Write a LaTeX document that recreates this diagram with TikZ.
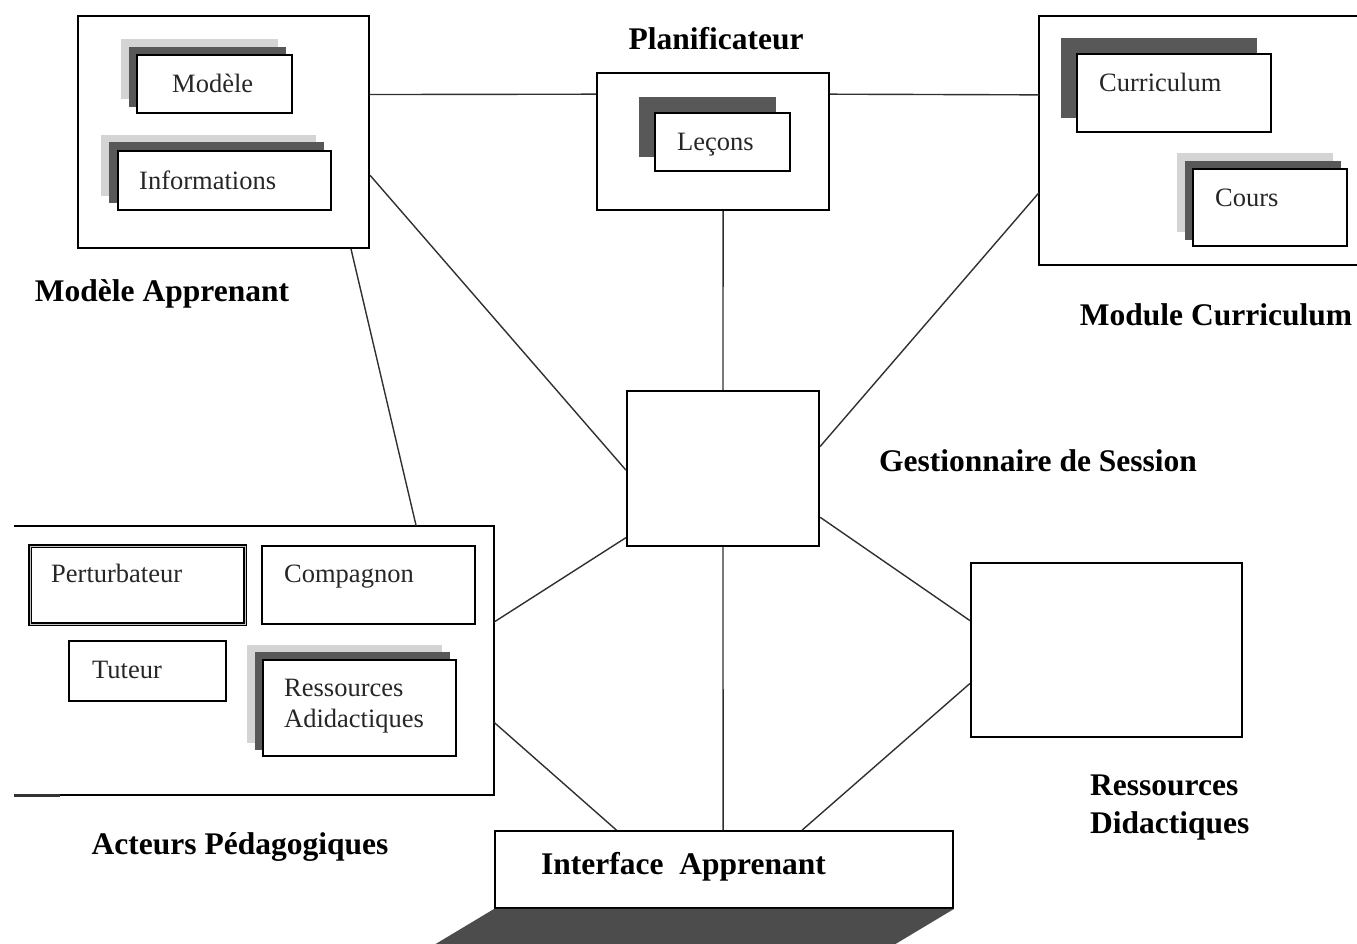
\documentclass[tikz,border=0pt]{standalone}
\usepackage{fontspec}
\setmainfont{Liberation Serif}
\usetikzlibrary{fit,calc,backgrounds}
\definecolor{shdark}{HTML}{585858}
\definecolor{shlight}{HTML}{D4D4D4}
\definecolor{platform}{HTML}{4C4C4C}
\definecolor{wire}{HTML}{303030}
\begin{document}
\begin{tikzpicture}[x=1pt,y=-1pt,
  mainbox/.style={inner sep=0pt, draw=black, line width=2.2pt},
  openbox/.style={inner sep=0pt},
  mainline/.style={draw=black, line width=2.2pt},
  innerbox/.style={inner sep=0pt, draw=black, fill=white, line width=1.4pt},
  heavybox/.style={inner sep=0pt, draw=black, fill=white, line width=1.9pt},
  doublebox/.style={inner sep=0pt, draw=black, fill=white, line width=1.2pt,
    double=gray!45, double distance=1pt},
  link/.style={draw=wire, line width=1.4pt},
  title/.style={inner sep=0pt, font=\fontsize{31.5}{38}\selectfont\bfseries},
  body/.style={inner sep=0pt, text=black!85, font=\fontsize{26.5}{31}\selectfont},
  darkshade/.style={fill=shdark},
  lightshade/.style={fill=shlight},
]
\useasboundingbox (0,0) rectangle (1357,943);

% ---------- main components ----------
\node[mainbox, fit={(78,16)(369,248)}] (ma) {};
\node[mainbox, fit={(597,73)(829,210)}] (plan) {};
\node[openbox, fit={(1039,16)(1366,265)}] (cur) {};
\draw[mainline] (cur.north east) -- (cur.north west) -- (cur.south west) -- (cur.south east);
\node[mainbox, fit={(627,391)(819,546)}] (gs) {};
\node[openbox, fit={(14,526)(494,795)}] (ap) {};
\draw[mainline] (ap.north west) -- (ap.north east) -- (ap.south east) -- (ap.south west);
\draw[line width=2.8pt, black!80] (ap.south west) -- ++(46,0);
\node[mainbox, fit={(971,563)(1242,737)}] (rd) {};

% learner interface with its platform
\node[heavybox, fit={(495,831)(953,908)}] (ia) {};
\fill[platform] (ia.south west) -- (ia.south east) -- ($(ia.south east)+(-70,42)$)
  -- ($(ia.south west)+(-70,42)$) -- cycle;

% ---------- inner boxes ----------
\node[innerbox, fit={(137,55)(292,113)}] (mo) {};
\node[innerbox, fit={(118,151)(331,210)}] (inf) {};
\node[innerbox, fit={(655,113)(790,171)}] (lec) {};
\node[innerbox, fit={(1077,54)(1271,132)}] (cu) {};
\node[innerbox, fit={(1193,169)(1347,246)}] (co) {};
\node[doublebox, fit={(30,546)(245,624)}] (pe) {};
\node[heavybox, fit={(262,546)(475,624)}] (cp) {};
\node[heavybox, fit={(69,641)(226,701)}] (tu) {};
\node[innerbox, fit={(263,660)(456,756)}] (ra) {};

% stacked shadows behind the inner boxes
\begin{scope}[on background layer]
  \fill[lightshade] ($(mo.north west)+(-15,-15)$) rectangle ($(mo.south east)+(-15,-15)$);
  \fill[darkshade]  ($(mo.north west)+(-7,-7)$)   rectangle ($(mo.south east)+(-7,-7)$);
  \fill[lightshade] ($(inf.north west)+(-16,-15)$) rectangle ($(inf.south east)+(-16,-15)$);
  \fill[darkshade]  ($(inf.north west)+(-8,-8)$)   rectangle ($(inf.south east)+(-8,-8)$);
  \fill[darkshade]  ($(lec.north west)+(-15,-15)$) rectangle ($(lec.south east)+(-15,-15)$);
  \fill[darkshade]  ($(cu.north west)+(-15,-15)$)  rectangle ($(cu.south east)+(-15,-15)$);
  \fill[lightshade] ($(co.north west)+(-15,-15)$)  rectangle ($(co.south east)+(-15,-15)$);
  \fill[darkshade]  ($(co.north west)+(-7,-7)$)    rectangle ($(co.south east)+(-7,-7)$);
  \fill[lightshade] ($(ra.north west)+(-15,-14)$)  rectangle ($(ra.south east)+(-15,-14)$);
  \fill[darkshade]  ($(ra.north west)+(-7,-7)$)    rectangle ($(ra.south east)+(-7,-7)$);
\end{scope}

% ---------- texts inside boxes ----------
\node[body, anchor=base west] (moT)  at (172,92)  {Modèle};
\node[body, anchor=base west] (infT) at (139,189) {Informations};
\node[body, anchor=base west] (lecT) at (677,150) {Leçons};
\node[body, anchor=base west] (cuT)  at (1099,91) {Curriculum};
\node[body, anchor=base west] (coT)  at (1215,206) {Cours};
\node[body, anchor=base west] (peT)  at (51,582)  {Perturbateur};
\node[body, anchor=base west] (cpT)  at (284,582) {Compagnon};
\node[body, anchor=base west] (tuT)  at (92,678)  {Tuteur};
% multi-line nodes: the base anchor sits on the last line
\node[body, anchor=base west, align=left] (raT) at (284,727) {Ressources\\Adidactiques};
\node[title, anchor=base west] (iaT) at (541,874) {Interface~~Apprenant};

% ---------- component titles ----------
\node[title, anchor=base] (planL) at (716,49)  {Planificateur};
\node[title, anchor=base] (maL)   at (162,301) {Modèle Apprenant};
\node[title, anchor=base] (curL)  at (1216,325) {Module Curriculum};
\node[title, anchor=base] (gsL)   at (1038,471) {Gestionnaire de Session};
\node[title, anchor=base] (apL)   at (240,854) {Acteurs Pédagogiques};
\node[title, anchor=base west, align=left] (rdL) at (1090,833) {Ressources\\Didactiques};

% ---------- connectors ----------
\draw[link] ($(ma.north east)!0.34!(ma.south east)$) -- ($(plan.north west)!0.16!(plan.south west)$);
\draw[link] ($(plan.north east)!0.16!(plan.south east)$) -- ($(cur.north west)!0.317!(cur.south west)$);
\draw[link] ($(plan.south west)!0.543!(plan.south east)$) -- (gs.north);
\draw[link] ($(ma.north east)!0.685!(ma.south east)$) -- ($(gs.north west)!0.51!(gs.south west)$);
\draw[link] ($(cur.north west)!0.71!(cur.south west)$) -- ($(gs.north east)!0.36!(gs.south east)$);
\draw[link] ($(ma.south west)!0.935!(ma.south east)$) -- ($(ap.north west)!0.8375!(ap.north east)$);
\draw[link] ($(gs.north west)!0.94!(gs.south west)$) -- ($(ap.north east)!0.357!(ap.south east)$);
\draw[link] ($(gs.north east)!0.81!(gs.south east)$) -- ($(rd.north west)!0.333!(rd.south west)$);
\draw[link] (gs.south) -- ($(ia.north west)!0.498!(ia.north east)$);
\draw[link] ($(ap.north east)!0.73!(ap.south east)$) -- ($(ia.north west)!0.266!(ia.north east)$);
\draw[link] ($(rd.north west)!0.69!(rd.south west)$) -- ($(ia.north west)!0.67!(ia.north east)$);
\end{tikzpicture}
\end{document}
